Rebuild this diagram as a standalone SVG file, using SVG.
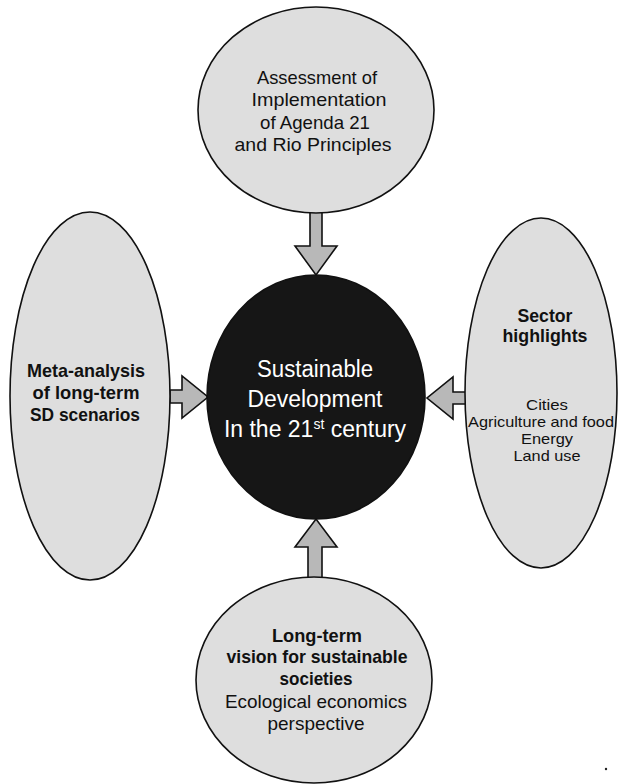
<svg xmlns="http://www.w3.org/2000/svg" width="618" height="784" viewBox="0 0 618 784">
  <style>
    .bubble { fill: #dedede; stroke: #111; stroke-width: 1.6; }
    .core { fill: #161616; stroke: #111; stroke-width: 1.6; }
    .arrow { fill: #b8b8b8; stroke: #111; stroke-width: 1.6; stroke-linejoin: miter; }
    text { font-family: "Liberation Sans", Arial, sans-serif; text-anchor: middle; fill: #111; }
    .reg { font-size: 19px; font-weight: 400; }
    .bold { font-size: 18.5px; font-weight: 700; }
    .small { font-size: 15px; font-weight: 400; }
    .white { fill: #ffffff; font-size: 23px; font-weight: 400; }
  </style>

  <!-- connectors: block arrows pointing into the centre -->
  <g id="connectors">
    <polygon class="arrow" points="310,212 322,212 322,246 337,246 316,275 295,246 310,246"/>
    <polygon class="arrow" points="308,578 322,578 322,547 337,547 316,519 295,547 308,547"/>
    <polygon class="arrow" points="170,390 182,390 182,376 208,397 182,418 182,403 170,403"/>
    <polygon class="arrow" points="466,392 453,392 453,377 427,398 453,419 453,404 466,404"/>
  </g>

  <g id="node-assessment">
    <ellipse class="bubble" cx="316" cy="110" rx="118" ry="103"/>
    <text class="reg" x="317" y="84" textLength="120" lengthAdjust="spacingAndGlyphs">Assessment of</text>
    <text class="reg" x="319" y="106" textLength="135" lengthAdjust="spacingAndGlyphs">Implementation</text>
    <text class="reg" x="315" y="129" textLength="110" lengthAdjust="spacingAndGlyphs">of Agenda 21</text>
    <text class="reg" x="313" y="151" textLength="157" lengthAdjust="spacingAndGlyphs">and Rio Principles</text>
  </g>

  <g id="node-meta-analysis">
    <ellipse class="bubble" cx="90" cy="396" rx="80" ry="184"/>
    <text class="bold" x="86" y="377" textLength="118" lengthAdjust="spacingAndGlyphs">Meta-analysis</text>
    <text class="bold" x="86" y="399" textLength="107" lengthAdjust="spacingAndGlyphs">of long-term</text>
    <text class="bold" x="85" y="420.5" textLength="110" lengthAdjust="spacingAndGlyphs">SD scenarios</text>
  </g>

  <g id="node-sectors">
    <ellipse class="bubble" cx="541" cy="393" rx="76" ry="175"/>
    <text class="bold" x="545" y="322" textLength="55" lengthAdjust="spacingAndGlyphs" style="font-size:17.5px">Sector</text>
    <text class="bold" x="545" y="342" textLength="85" lengthAdjust="spacingAndGlyphs" style="font-size:17.5px">highlights</text>
    <text class="small" x="547" y="410" textLength="42" lengthAdjust="spacingAndGlyphs">Cities</text>
    <text class="small" x="541" y="427" textLength="146" lengthAdjust="spacingAndGlyphs">Agriculture and food</text>
    <text class="small" x="547" y="444" textLength="52" lengthAdjust="spacingAndGlyphs">Energy</text>
    <text class="small" x="547" y="461" textLength="67" lengthAdjust="spacingAndGlyphs">Land use</text>
  </g>

  <g id="node-vision">
    <ellipse class="bubble" cx="314" cy="680" rx="118" ry="103"/>
    <text class="bold" x="317" y="642" textLength="90" lengthAdjust="spacingAndGlyphs">Long-term</text>
    <text class="bold" x="317" y="663" textLength="181" lengthAdjust="spacingAndGlyphs">vision for sustainable</text>
    <text class="bold" x="316" y="685" textLength="73" lengthAdjust="spacingAndGlyphs">societies</text>
    <text class="reg" x="316" y="708" textLength="182" lengthAdjust="spacingAndGlyphs">Ecological economics</text>
    <text class="reg" x="316" y="730" textLength="97" lengthAdjust="spacingAndGlyphs">perspective</text>
  </g>

  <g id="node-core">
    <ellipse class="core" cx="316" cy="397" rx="109" ry="122"/>
    <text class="white" x="315" y="377" textLength="116" lengthAdjust="spacingAndGlyphs">Sustainable</text>
    <text class="white" x="315" y="407" textLength="135" lengthAdjust="spacingAndGlyphs">Development</text>
    <text class="white" x="315" y="437">In the 21<tspan font-size="14" dy="-8">st</tspan><tspan dy="8"> century</tspan></text>
  </g>

  <!-- stray print mark at lower right -->
  <circle cx="606" cy="769" r="1.2" fill="#222"/>
</svg>
